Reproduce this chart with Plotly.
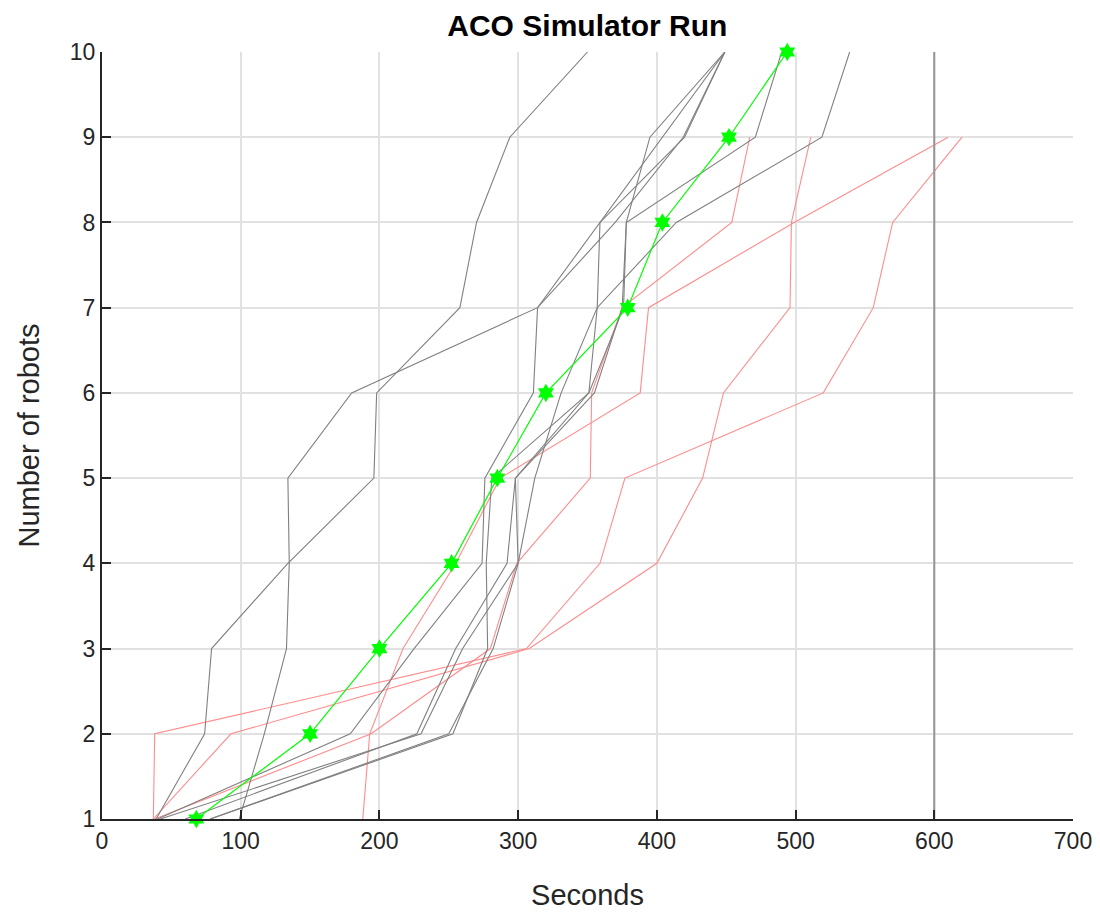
import plotly.graph_objects as go

# Number of robots (levels)
robots_10 = [1, 2, 3, 4, 5, 6, 7, 8, 9, 10]
robots_9 = [1, 2, 3, 4, 5, 6, 7, 8, 9]

# Runs that reached 10 robots (seconds at which each robot count was reached)
gray_run_1 = [39, 74, 79, 134, 196, 198, 258, 270, 294, 350]
gray_run_2 = [99, 117, 133, 135, 134, 180, 314, 370, 419, 449]
gray_run_3 = [40, 179, 225, 274, 276, 311, 314, 359, 404, 449]
gray_run_4 = [78, 253, 278, 277, 281, 351, 376, 378, 471, 490]
gray_run_5 = [60, 227, 255, 292, 298, 351, 357, 414, 519, 539]
gray_run_6 = [78, 250, 282, 300, 312, 331, 357, 359, 420, 449]
gray_run_7 = [42, 230, 260, 300, 298, 355, 375, 378, 395, 449]

# Runs that reached only 9 robots
red_run_1 = [37, 38, 306, 359, 377, 520, 556, 570, 620]
red_run_2 = [188, 193, 217, 255, 287, 388, 394, 499, 610]
red_run_3 = [37, 93, 308, 400, 433, 448, 496, 497, 511]
red_run_4 = [38, 194, 280, 299, 352, 353, 375, 454, 467]

# Mean run
mean_run = [68, 150, 200, 252, 285, 320, 379, 404, 452, 494]

# Time limit marker
limit_x = [600, 600]
limit_y = [1, 10]

gray_runs = [gray_run_1, gray_run_2, gray_run_3, gray_run_4, gray_run_5, gray_run_6, gray_run_7]
red_runs = [red_run_1, red_run_2, red_run_3, red_run_4]

FONT = "Liberation Sans, Arial, Helvetica, sans-serif"
TXT = "rgb(38,38,38)"

fig = go.Figure()

for run in red_runs:
    fig.add_trace(go.Scatter(x=run, y=robots_9, mode="lines",
                             line=dict(color="rgb(255,140,140)", width=1.1),
                             showlegend=False, hoverinfo="skip"))
for run in gray_runs:
    fig.add_trace(go.Scatter(x=run, y=robots_10, mode="lines",
                             line=dict(color="rgb(128,128,128)", width=1.1),
                             showlegend=False, hoverinfo="skip"))

fig.add_trace(go.Scatter(x=limit_x, y=limit_y, mode="lines",
                         line=dict(color="rgb(150,150,150)", width=2),
                         showlegend=False, hoverinfo="skip"))

fig.add_trace(go.Scatter(x=mean_run, y=robots_10, mode="lines+markers",
                         line=dict(color="rgb(0,255,0)", width=1.2),
                         marker=dict(symbol="hexagram", size=14, color="rgb(0,255,0)",
                                     line=dict(width=0)),
                         showlegend=False, cliponaxis=False))

axis_font = dict(family=FONT, size=23, color=TXT)

fig.update_layout(
    width=1100, height=914,
    margin=dict(l=102, r=27, t=52, b=95),
    paper_bgcolor="white", plot_bgcolor="white",
    title=dict(text="<b>ACO Simulator Run</b>", x=0.5339, xanchor="center", y=0.9726, yanchor="middle",
               font=dict(family=FONT, size=30, color="black")),
    xaxis=dict(range=[0, 700], tickvals=[0, 100, 200, 300, 400, 500, 600, 700],
               ticks="inside", ticklen=9, tickcolor=TXT, tickwidth=1.5,
               showline=True, linecolor=TXT, linewidth=2,
               showgrid=True, gridcolor="rgb(225,225,225)", gridwidth=1.5,
               zeroline=False, tickfont=axis_font, automargin=False,
               title=dict(text="Seconds", font=dict(family=FONT, size=29, color=TXT), standoff=32)),
    yaxis=dict(range=[1, 10], tickvals=list(range(1, 11)),
               ticks="inside", ticklen=9, tickcolor=TXT, tickwidth=1.5,
               showline=True, linecolor=TXT, linewidth=2,
               showgrid=True, gridcolor="rgb(225,225,225)", gridwidth=1.5,
               zeroline=False, tickfont=axis_font, automargin=False,
               title=dict(text="Number of robots", font=dict(family=FONT, size=29, color=TXT), standoff=22)),
)

fig.write_html("out.html")
